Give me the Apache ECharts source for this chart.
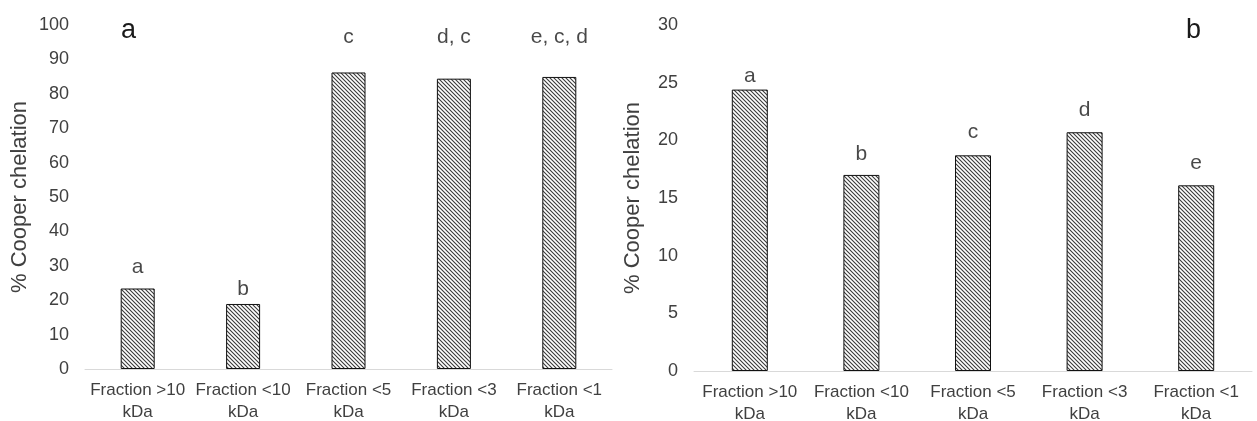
<!DOCTYPE html>
<html>
<head>
<meta charset="utf-8">
<script src="https://cdn.jsdelivr.net/npm/echarts@6/dist/echarts.min.js"></script>
<style>
  html, body { margin: 0; padding: 0; background: #fff; }
  #chart { width: 1257px; height: 421px; }
</style>
</head>
<body>
<div id="chart"></div>
<script>
// data
var categories = ["Fraction >10\nkDa", "Fraction <10\nkDa", "Fraction <5\nkDa", "Fraction <3\nkDa", "Fraction <1\nkDa"];

var valuesA = [23.4, 18.9, 86.2, 84.4, 84.9];
var lettersA = ["a", "b", "c", "d, c", "e, c, d"];
var letterYA = [29.5, 23.2, 96.5, 96.5, 96.5];
var ticksA = { min: 0, max: 100, interval: 10 };

var valuesB = [24.4, 17.0, 18.7, 20.7, 16.1];
var lettersB = ["a", "b", "c", "d", "e"];
var letterYB = [25.6, 18.8, 20.7, 22.6, 18.0];
var ticksB = { min: 0, max: 30, interval: 5 };

// hatch fill  (\\\\ lines)
function makeHatch() {
  var c = document.createElement("canvas");
  c.width = 4; c.height = 4;
  var ctx = c.getContext("2d");
  ctx.fillStyle = "#fff";
  ctx.fillRect(0, 0, 4, 4);
  ctx.strokeStyle = "#3a3a3a";
  ctx.lineWidth = 1.1;
  ctx.beginPath();
  ctx.moveTo(-1, -1); ctx.lineTo(5, 5);
  ctx.moveTo(-1, 3); ctx.lineTo(1, 5);
  ctx.moveTo(3, -1); ctx.lineTo(5, 1);
  ctx.stroke();
  return c;
}
var hatch = makeHatch();

var font = "'Liberation Sans', Arial, sans-serif";
var textColor = "#404040";

function xAxisFor(idx) {
  return {
    type: "category",
    gridIndex: idx,
    data: categories,
    axisLine: { show: true, lineStyle: { color: "#d9d9d9", width: 1 } },
    axisTick: { show: false },
    axisLabel: { color: textColor, fontSize: 17, fontFamily: font, lineHeight: 22, margin: 10, interval: 0 },
    splitLine: { show: false }
  };
}

function yAxisFor(idx, t, gap) {
  return {
    type: "value",
    gridIndex: idx,
    min: t.min, max: t.max, interval: t.interval,
    name: "% Cooper chelation",
    nameLocation: "middle",
    nameGap: gap,
    nameTextStyle: { color: textColor, fontSize: 22, fontFamily: font },
    axisLine: { show: false },
    axisTick: { show: false },
    splitLine: { show: false },
    axisLabel: { color: textColor, fontSize: 18, fontFamily: font, margin: 16 }
  };
}

function barSeries(idx, vals, w) {
  return {
    type: "bar",
    xAxisIndex: idx, yAxisIndex: idx,
    data: vals,
    barWidth: w,
    itemStyle: { color: { image: hatch, repeat: "repeat" }, borderColor: "#111", borderWidth: 1 },
    silent: true
  };
}

function letterSeries(idx, letters, ys) {
  return {
    type: "scatter",
    xAxisIndex: idx, yAxisIndex: idx,
    symbolSize: 0,
    data: ys.map(function (y, i) { return { value: [i, y], name: letters[i] }; }),
    label: {
      show: true, position: "inside",
      formatter: function (p) { return p.name; },
      color: "#1a1a1a", fontSize: 21, fontFamily: font
    },
    silent: true
  };
}

var chart = echarts.init(document.getElementById("chart"));
chart.setOption({
  animation: false,
  backgroundColor: "#fff",
  grid: [
    { left: 85, right: 645, top: 25, bottom: 52, outerBoundsMode: "none", containLabel: false },
    { left: 694, right: 5, top: 25, bottom: 50, outerBoundsMode: "none", containLabel: false }
  ],
  xAxis: [xAxisFor(0), xAxisFor(1)],
  yAxis: [yAxisFor(0, ticksA, 54), yAxisFor(1, ticksB, 50)],
  series: [
    barSeries(0, valuesA, 34),
    letterSeries(0, lettersA, letterYA),
    barSeries(1, valuesB, 36),
    letterSeries(1, lettersB, letterYB)
  ],
  graphic: [
    { type: "text", left: 121, top: 17, style: { text: "a", fontSize: 27, fontFamily: font, fill: "#1a1a1a" } },
    { type: "text", left: 1186, top: 17, style: { text: "b", fontSize: 27, fontFamily: font, fill: "#1a1a1a" } }
  ]
});
</script>
</body>
</html>
